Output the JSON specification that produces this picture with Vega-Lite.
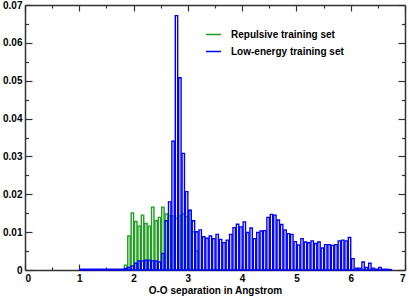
{
 "$schema": "https://vega.github.io/schema/vega-lite/v6.json",
 "width": 380, "height": 265,
 "autosize": {"type": "none"},
 "padding": {"left": 25, "top": 5, "right": 4, "bottom": 27},
 "background": "white",
 "config": {
  "font": "Liberation Sans",
  "view": {"stroke": null},
  "axis": {"labelFont": "Liberation Sans", "labelFontWeight": "bold", "labelFontSize": 10, "labelColor": "black", "grid": false, "domainColor": "#333", "tickColor": "#333", "domainWidth": 1.5, "tickWidth": 1.2, "titleFont": "Liberation Sans", "titleFontWeight": "bold", "titleFontSize": 10, "titleColor": "black"}
 },
 "datasets": {
  "h": [
   {"s": "Repulsive training set", "x0": 1.8125, "x1": 1.875, "v": 0.0013},
   {"s": "Repulsive training set", "x0": 1.875, "x1": 1.9375, "v": 0.0090},
   {"s": "Repulsive training set", "x0": 1.9375, "x1": 2.0, "v": 0.0151},
   {"s": "Repulsive training set", "x0": 2.0, "x1": 2.0625, "v": 0.0128},
   {"s": "Repulsive training set", "x0": 2.0625, "x1": 2.125, "v": 0.0116},
   {"s": "Repulsive training set", "x0": 2.125, "x1": 2.1875, "v": 0.0145},
   {"s": "Repulsive training set", "x0": 2.1875, "x1": 2.25, "v": 0.0123},
   {"s": "Repulsive training set", "x0": 2.25, "x1": 2.3125, "v": 0.0116},
   {"s": "Repulsive training set", "x0": 2.3125, "x1": 2.375, "v": 0.0166},
   {"s": "Repulsive training set", "x0": 2.375, "x1": 2.4375, "v": 0.0130},
   {"s": "Repulsive training set", "x0": 2.4375, "x1": 2.5, "v": 0.0139},
   {"s": "Repulsive training set", "x0": 2.5, "x1": 2.5625, "v": 0.0166},
   {"s": "Repulsive training set", "x0": 2.5625, "x1": 2.625, "v": 0.0148},
   {"s": "Repulsive training set", "x0": 2.625, "x1": 2.6875, "v": 0.0143},
   {"s": "Repulsive training set", "x0": 2.6875, "x1": 2.75, "v": 0.0143},
   {"s": "Repulsive training set", "x0": 2.75, "x1": 2.8125, "v": 0.0136},
   {"s": "Repulsive training set", "x0": 2.8125, "x1": 2.875, "v": 0.0143},
   {"s": "Repulsive training set", "x0": 2.875, "x1": 2.9375, "v": 0.0148},
   {"s": "Repulsive training set", "x0": 2.9375, "x1": 3.0, "v": 0.0141},
   {"s": "Repulsive training set", "x0": 3.0, "x1": 3.0625, "v": 0.0157},
   {"s": "Repulsive training set", "x0": 3.0625, "x1": 3.125, "v": 0.0101},
   {"s": "Repulsive training set", "x0": 3.125, "x1": 3.1875, "v": 0.0050},
   {"s": "Low-energy training set", "x0": 1.0, "x1": 1.0625, "v": 0.0002},
   {"s": "Low-energy training set", "x0": 1.0625, "x1": 1.125, "v": 0.0002},
   {"s": "Low-energy training set", "x0": 1.125, "x1": 1.1875, "v": 0.0002},
   {"s": "Low-energy training set", "x0": 1.1875, "x1": 1.25, "v": 0.0002},
   {"s": "Low-energy training set", "x0": 1.25, "x1": 1.3125, "v": 0.0002},
   {"s": "Low-energy training set", "x0": 1.3125, "x1": 1.375, "v": 0.0002},
   {"s": "Low-energy training set", "x0": 1.375, "x1": 1.4375, "v": 0.0002},
   {"s": "Low-energy training set", "x0": 1.4375, "x1": 1.5, "v": 0.0002},
   {"s": "Low-energy training set", "x0": 1.5, "x1": 1.5625, "v": 0.0002},
   {"s": "Low-energy training set", "x0": 1.5625, "x1": 1.625, "v": 0.0002},
   {"s": "Low-energy training set", "x0": 1.625, "x1": 1.6875, "v": 0.0002},
   {"s": "Low-energy training set", "x0": 1.6875, "x1": 1.75, "v": 0.0002},
   {"s": "Low-energy training set", "x0": 1.75, "x1": 1.8125, "v": 0.0002},
   {"s": "Low-energy training set", "x0": 1.8125, "x1": 1.875, "v": 0.0004},
   {"s": "Low-energy training set", "x0": 1.875, "x1": 1.9375, "v": 0.0007},
   {"s": "Low-energy training set", "x0": 1.9375, "x1": 2.0, "v": 0.0011},
   {"s": "Low-energy training set", "x0": 2.0, "x1": 2.0625, "v": 0.0018},
   {"s": "Low-energy training set", "x0": 2.0625, "x1": 2.125, "v": 0.0024},
   {"s": "Low-energy training set", "x0": 2.125, "x1": 2.1875, "v": 0.0024},
   {"s": "Low-energy training set", "x0": 2.1875, "x1": 2.25, "v": 0.0026},
   {"s": "Low-energy training set", "x0": 2.25, "x1": 2.3125, "v": 0.0026},
   {"s": "Low-energy training set", "x0": 2.3125, "x1": 2.375, "v": 0.0024},
   {"s": "Low-energy training set", "x0": 2.375, "x1": 2.4375, "v": 0.0024},
   {"s": "Low-energy training set", "x0": 2.4375, "x1": 2.5, "v": 0.0021},
   {"s": "Low-energy training set", "x0": 2.5, "x1": 2.5625, "v": 0.0044},
   {"s": "Low-energy training set", "x0": 2.5625, "x1": 2.625, "v": 0.0130},
   {"s": "Low-energy training set", "x0": 2.625, "x1": 2.6875, "v": 0.0180},
   {"s": "Low-energy training set", "x0": 2.6875, "x1": 2.75, "v": 0.0340},
   {"s": "Low-energy training set", "x0": 2.75, "x1": 2.8125, "v": 0.0672},
   {"s": "Low-energy training set", "x0": 2.8125, "x1": 2.875, "v": 0.0508},
   {"s": "Low-energy training set", "x0": 2.875, "x1": 2.9375, "v": 0.0308},
   {"s": "Low-energy training set", "x0": 2.9375, "x1": 3.0, "v": 0.0207},
   {"s": "Low-energy training set", "x0": 3.0, "x1": 3.0625, "v": 0.0158},
   {"s": "Low-energy training set", "x0": 3.0625, "x1": 3.125, "v": 0.0130},
   {"s": "Low-energy training set", "x0": 3.125, "x1": 3.1875, "v": 0.0101},
   {"s": "Low-energy training set", "x0": 3.1875, "x1": 3.25, "v": 0.0106},
   {"s": "Low-energy training set", "x0": 3.25, "x1": 3.3125, "v": 0.0088},
   {"s": "Low-energy training set", "x0": 3.3125, "x1": 3.375, "v": 0.0084},
   {"s": "Low-energy training set", "x0": 3.375, "x1": 3.4375, "v": 0.0090},
   {"s": "Low-energy training set", "x0": 3.4375, "x1": 3.5, "v": 0.0083},
   {"s": "Low-energy training set", "x0": 3.5, "x1": 3.5625, "v": 0.0094},
   {"s": "Low-energy training set", "x0": 3.5625, "x1": 3.625, "v": 0.0081},
   {"s": "Low-energy training set", "x0": 3.625, "x1": 3.6875, "v": 0.0072},
   {"s": "Low-energy training set", "x0": 3.6875, "x1": 3.75, "v": 0.0079},
   {"s": "Low-energy training set", "x0": 3.75, "x1": 3.8125, "v": 0.0094},
   {"s": "Low-energy training set", "x0": 3.8125, "x1": 3.875, "v": 0.0112},
   {"s": "Low-energy training set", "x0": 3.875, "x1": 3.9375, "v": 0.0121},
   {"s": "Low-energy training set", "x0": 3.9375, "x1": 4.0, "v": 0.0114},
   {"s": "Low-energy training set", "x0": 4.0, "x1": 4.0625, "v": 0.0127},
   {"s": "Low-energy training set", "x0": 4.0625, "x1": 4.125, "v": 0.0099},
   {"s": "Low-energy training set", "x0": 4.125, "x1": 4.1875, "v": 0.0111},
   {"s": "Low-energy training set", "x0": 4.1875, "x1": 4.25, "v": 0.0083},
   {"s": "Low-energy training set", "x0": 4.25, "x1": 4.3125, "v": 0.0099},
   {"s": "Low-energy training set", "x0": 4.3125, "x1": 4.375, "v": 0.0103},
   {"s": "Low-energy training set", "x0": 4.375, "x1": 4.4375, "v": 0.0104},
   {"s": "Low-energy training set", "x0": 4.4375, "x1": 4.5, "v": 0.0139},
   {"s": "Low-energy training set", "x0": 4.5, "x1": 4.5625, "v": 0.0147},
   {"s": "Low-energy training set", "x0": 4.5625, "x1": 4.625, "v": 0.0145},
   {"s": "Low-energy training set", "x0": 4.625, "x1": 4.6875, "v": 0.0132},
   {"s": "Low-energy training set", "x0": 4.6875, "x1": 4.75, "v": 0.0120},
   {"s": "Low-energy training set", "x0": 4.75, "x1": 4.8125, "v": 0.0106},
   {"s": "Low-energy training set", "x0": 4.8125, "x1": 4.875, "v": 0.0096},
   {"s": "Low-energy training set", "x0": 4.875, "x1": 4.9375, "v": 0.0094},
   {"s": "Low-energy training set", "x0": 4.9375, "x1": 5.0, "v": 0.0075},
   {"s": "Low-energy training set", "x0": 5.0, "x1": 5.0625, "v": 0.0066},
   {"s": "Low-energy training set", "x0": 5.0625, "x1": 5.125, "v": 0.0083},
   {"s": "Low-energy training set", "x0": 5.125, "x1": 5.1875, "v": 0.0074},
   {"s": "Low-energy training set", "x0": 5.1875, "x1": 5.25, "v": 0.0072},
   {"s": "Low-energy training set", "x0": 5.25, "x1": 5.3125, "v": 0.0077},
   {"s": "Low-energy training set", "x0": 5.3125, "x1": 5.375, "v": 0.0070},
   {"s": "Low-energy training set", "x0": 5.375, "x1": 5.4375, "v": 0.0074},
   {"s": "Low-energy training set", "x0": 5.4375, "x1": 5.5, "v": 0.0058},
   {"s": "Low-energy training set", "x0": 5.5, "x1": 5.5625, "v": 0.0067},
   {"s": "Low-energy training set", "x0": 5.5625, "x1": 5.625, "v": 0.0067},
   {"s": "Low-energy training set", "x0": 5.625, "x1": 5.6875, "v": 0.0065},
   {"s": "Low-energy training set", "x0": 5.6875, "x1": 5.75, "v": 0.0067},
   {"s": "Low-energy training set", "x0": 5.75, "x1": 5.8125, "v": 0.0077},
   {"s": "Low-energy training set", "x0": 5.8125, "x1": 5.875, "v": 0.0079},
   {"s": "Low-energy training set", "x0": 5.875, "x1": 5.9375, "v": 0.0077},
   {"s": "Low-energy training set", "x0": 5.9375, "x1": 6.0, "v": 0.0086},
   {"s": "Low-energy training set", "x0": 6.0, "x1": 6.0625, "v": 0.0030},
   {"s": "Low-energy training set", "x0": 6.0625, "x1": 6.125, "v": 0.0005},
   {"s": "Low-energy training set", "x0": 6.125, "x1": 6.1875, "v": 0.0005},
   {"s": "Low-energy training set", "x0": 6.1875, "x1": 6.25, "v": 0.0021},
   {"s": "Low-energy training set", "x0": 6.25, "x1": 6.3125, "v": 0.0007},
   {"s": "Low-energy training set", "x0": 6.3125, "x1": 6.375, "v": 0.0018},
   {"s": "Low-energy training set", "x0": 6.375, "x1": 6.4375, "v": 0.0005},
   {"s": "Low-energy training set", "x0": 6.4375, "x1": 6.5, "v": 0.0002},
   {"s": "Low-energy training set", "x0": 6.5, "x1": 6.5625, "v": 0.0007},
   {"s": "Low-energy training set", "x0": 6.5625, "x1": 6.625, "v": 0.0002},
   {"s": "Low-energy training set", "x0": 6.625, "x1": 6.6875, "v": 0.0002},
   {"s": "Low-energy training set", "x0": 6.6875, "x1": 6.75, "v": 0.0001}
  ]
 },
 "data": {"name": "h"},
 "layer": [
  {
   "mark": {"type": "bar", "filled": false, "strokeWidth": 1.4, "orient": "vertical"},
   "encoding": {
    "x": {"field": "x0", "type": "quantitative", "bin": {"binned": true}, "scale": {"domain": [0, 7], "nice": false, "zero": false},
          "axis": {"orient": "bottom", "values": [0, 1, 2, 3, 4, 5, 6, 7], "format": "d", "tickSize": -6, "labelPadding": 9, "title": "O-O separation in Angstrom", "titlePadding": 2}},
    "x2": {"field": "x1"},
    "y": {"field": "v", "type": "quantitative", "stack": null, "scale": {"domain": [0, 0.07], "nice": false},
          "axis": {"orient": "left", "values": [0, 0.01, 0.02, 0.03, 0.04, 0.05, 0.06, 0.07], "format": ".2~f", "tickSize": -7, "labelPadding": 10, "title": null}},
    "y2": {"datum": 0},
    "color": {"field": "s", "type": "nominal",
              "scale": {"domain": ["Repulsive training set", "Low-energy training set"], "range": ["#1e9e1e", "#0000ff"]},
              "legend": {"title": null, "orient": "none", "legendX": 180, "legendY": 21, "padding": 0, "symbolType": "stroke", "symbolSize": 225, "symbolStrokeWidth": 1.5, "labelFont": "Liberation Sans", "labelFontWeight": "bold", "labelFontSize": 10, "labelColor": "black", "labelOffset": 9, "rowPadding": 3}}
   }
  },
  {
   "mark": {"type": "bar", "opacity": 0, "orient": "vertical"},
   "encoding": {
    "x": {"field": "x0", "type": "quantitative", "bin": {"binned": true}, "axis": {"orient": "bottom", "values": [0.5, 1.5, 2.5, 3.5, 4.5, 5.5, 6.5], "tickSize": -3, "labels": false, "domain": false, "title": null}},
    "x2": {"field": "x1"},
    "y": {"field": "v", "type": "quantitative", "stack": null, "axis": {"orient": "left", "values": [0.005, 0.015, 0.025, 0.035, 0.045, 0.055, 0.065], "tickSize": -3.5, "labels": false, "domain": false, "title": null}},
    "y2": {"datum": 0}
   }
  },
  {
   "mark": {"type": "bar", "opacity": 0, "orient": "vertical"},
   "encoding": {
    "x": {"field": "x0", "type": "quantitative", "bin": {"binned": true}, "axis": {"orient": "top", "values": [0, 1, 2, 3, 4, 5, 6, 7], "tickSize": -6, "labels": false, "title": null}},
    "x2": {"field": "x1"},
    "y": {"field": "v", "type": "quantitative", "stack": null, "axis": {"orient": "right", "values": [0, 0.01, 0.02, 0.03, 0.04, 0.05, 0.06, 0.07], "tickSize": -7, "labels": false, "title": null}},
    "y2": {"datum": 0}
   }
  },
  {
   "mark": {"type": "bar", "opacity": 0, "orient": "vertical"},
   "encoding": {
    "x": {"field": "x0", "type": "quantitative", "bin": {"binned": true}, "axis": {"orient": "top", "values": [0.5, 1.5, 2.5, 3.5, 4.5, 5.5, 6.5], "tickSize": -3, "labels": false, "domain": false, "title": null}},
    "x2": {"field": "x1"},
    "y": {"field": "v", "type": "quantitative", "stack": null, "axis": {"orient": "right", "values": [0.005, 0.015, 0.025, 0.035, 0.045, 0.055, 0.065], "tickSize": -3.5, "labels": false, "domain": false, "title": null}},
    "y2": {"datum": 0}
   }
  }
 ],
 "resolve": {"axis": {"x": "independent", "y": "independent"}}
}
